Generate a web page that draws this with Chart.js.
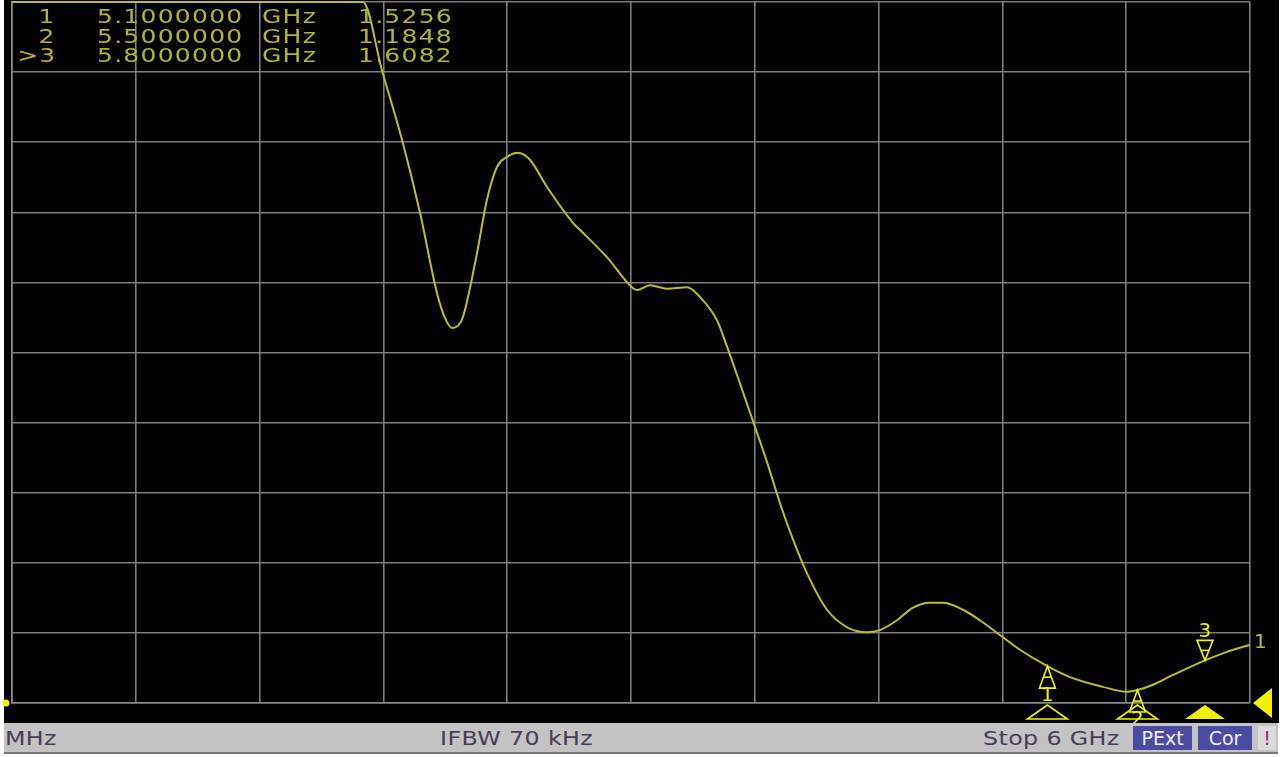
<!DOCTYPE html>
<html>
<head>
<meta charset="utf-8">
<script src="https://cdn.jsdelivr.net/npm/chart.js@4/dist/chart.umd.min.js"></script>
<style>
  html, body { margin: 0; padding: 0; background: #ffffff; }
  #screen { position: absolute; left: 4px; top: 0; width: 1275px; height: 723px; background: #000; }
  #wrap { position: absolute; left: 0; top: 0; width: 1282px; height: 757px; }
  .mk { position: absolute; font-family: "DejaVu Sans", sans-serif; font-size: 20px; line-height: 19.5px;
        color: #b4b42a; letter-spacing: 1px; white-space: pre; transform: scaleX(1.25); }
  #status { position: absolute; left: 4px; top: 723px; width: 1274px; height: 29px; background: #c3c3c3;
            border-bottom: 2px solid #7a7a7a; }
  .st { position: absolute; top: 4px; font-family: "DejaVu Sans", sans-serif; font-size: 19px; line-height: 22px;
        color: #4b3b5b; letter-spacing: 0.3px; white-space: pre; transform: scaleX(1.25); transform-origin: left center; }
  .box { position: absolute; top: 3px; height: 24px; background: #4b4ba3; color: #eeeeff;
         font-family: "DejaVu Sans", sans-serif; font-size: 19px; line-height: 24px; text-align: center; }
</style>
</head>
<body>
<div id="screen"></div>
<div id="wrap"><canvas id="myChart"></canvas></div>
<div id="table"></div>
<div id="status">
  <div class="st" style="left:1px">MHz</div>
  <div class="st" style="left:436px">IFBW 70 kHz</div>
  <div class="st" style="left:979px">Stop 6 GHz</div>
  <div class="box" style="left:1129px;width:59px">PExt</div>
  <div class="box" style="left:1194px;width:54px">Cor</div>
  <div class="box" style="left:1254px;width:18px;background:#dadada;color:#a0207a">!</div>
</div>
<script>
// sweep, GHz (start 500 MHz, stop 6 GHz) and SWR
const freqs = [0.50, 1.00, 1.50, 2.00, 2.059, 2.144, 2.233, 2.313, 2.388, 2.424, 2.455, 2.481, 2.504,
  2.566, 2.610, 2.655, 2.699, 2.748, 2.801, 2.877, 2.992, 3.023, 3.143, 3.254, 3.277, 3.334, 3.410,
  3.499, 3.557, 3.632, 3.677, 3.734, 3.792, 3.854, 3.912, 3.970, 4.032, 4.121, 4.210, 4.298, 4.356,
  4.432, 4.503, 4.578, 4.636, 4.725, 4.800, 4.889, 4.978, 5.10, 5.20, 5.347, 5.453, 5.50, 5.569,
  5.658, 5.80, 5.898, 6.00];
const swr = [11, 11, 11, 11, 11.0, 10.02, 9.03, 7.99, 6.85, 6.49, 6.35, 6.38, 6.51,
  7.42, 8.18, 8.65, 8.79, 8.85, 8.75, 8.36, 7.85, 7.75, 7.36, 6.93, 6.89, 6.96, 6.91,
  6.93, 6.79, 6.46, 6.08, 5.56, 5.02, 4.44, 3.85, 3.33, 2.85, 2.33, 2.08, 2.01, 2.04,
  2.18, 2.36, 2.43, 2.43, 2.33, 2.18, 1.97, 1.76, 1.5256, 1.37, 1.23, 1.16, 1.1848, 1.26,
  1.40, 1.6082, 1.73, 1.83];

const markerNames = ['1', '2', '>3'];
const markerFreqs = [5.1, 5.5, 5.8];
const markerVals = [1.5256, 1.1848, 1.6082];
const activeMarker = 2;

const xTicks = [0.5, 1.05, 1.6, 2.15, 2.7, 3.25, 3.8, 4.35, 4.9, 5.45, 6.0];
const yTicks = [1, 2, 3, 4, 5, 6, 7, 8, 9, 10, 11];

// marker table
const table = document.getElementById('table');
markerNames.forEach((name, i) => {
    const top = 7 + i * 19.5;
    const cols = [
        [name, 'right:1226px;transform-origin:right center'],
        [markerFreqs[i].toFixed(7), 'left:97px;transform-origin:left center'],
        ['GHz', 'left:262px;transform-origin:left center'],
        [markerVals[i].toFixed(4), 'left:358px;transform-origin:left center']
    ];
    cols.forEach(c => {
        const d = document.createElement('div');
        d.className = 'mk';
        d.style.cssText = c[1] + ';top:' + top + 'px';
        d.textContent = c[0];
        table.appendChild(d);
    });
});

const yellow = '#f2f200';

function tri(ctx, x, y, w, h, fill) {
    ctx.beginPath();
    ctx.moveTo(x, y);
    ctx.lineTo(x - w, y + h);
    ctx.lineTo(x + w, y + h);
    ctx.closePath();
    if (fill) ctx.fill(); else ctx.stroke();
}

const markerPlugin = {
    id: 'markers',
    afterDatasetsDraw(chart) {
        const ctx = chart.ctx;
        const xs = chart.scales.x, ys = chart.scales.y;
        const area = chart.chartArea;
        ctx.save();
        ctx.strokeStyle = yellow;
        ctx.fillStyle = yellow;
        ctx.lineWidth = 1.6;
        ctx.font = '20px "DejaVu Sans"';
        ctx.textAlign = 'center';
        ctx.textBaseline = 'middle';
        markerFreqs.forEach((f, i) => {
            const px = xs.getPixelForValue(f);
            const py = ys.getPixelForValue(markerVals[i]);
            const num = String(i + 1);
            if (i === activeMarker) {
                tri(ctx, px, py, 8, -20, false);
                ctx.beginPath();
                ctx.moveTo(px - 4, py - 10);
                ctx.lineTo(px + 4, py - 10);
                ctx.stroke();
                ctx.fillText(num, px, py - 29);
                tri(ctx, px, area.bottom + 2, 20, 14, true);
            } else {
                tri(ctx, px, py, 8, 22, false);
                ctx.beginPath();
                ctx.moveTo(px - 4, py + 11);
                ctx.lineTo(px + 4, py + 11);
                ctx.stroke();
                ctx.fillText(num, px, py + 30);
                tri(ctx, px, area.bottom + 2, 20, 14, false);
            }
        });
        // trace label at the right end
        ctx.fillStyle = '#bdbd2a';
        ctx.textAlign = 'left';
        ctx.fillText('1', area.right + 4, ys.getPixelForValue(swr[swr.length - 1]) - 2);
        // left and right reference indicators
        ctx.fillStyle = yellow;
        ctx.beginPath();
        ctx.arc(6, area.bottom, 3.5, 0, Math.PI * 2);
        ctx.fill();
        ctx.beginPath();
        ctx.moveTo(area.right + 3, area.bottom);
        ctx.lineTo(area.right + 22, area.bottom - 15);
        ctx.lineTo(area.right + 22, area.bottom + 15);
        ctx.closePath();
        ctx.fill();
        ctx.restore();
    }
};

const ctx = document.getElementById('myChart').getContext('2d');
const swrChart = new Chart(ctx, {
    type: 'line',
    data: {
        datasets: [{
            label: 'SWR',
            data: freqs.map((f, i) => ({ x: f, y: swr[i] })),
            borderColor: '#bdbd2a',
            borderWidth: 2,
            pointRadius: 0,
            cubicInterpolationMode: 'monotone',
            clip: 2
        }]
    },
    options: {
        responsive: true,
        maintainAspectRatio: false,
        animation: false,
        layout: { padding: { left: 12, top: 2, right: 32, bottom: 54 } },
        scales: {
            x: {
                type: 'linear',
                min: 0.5,
                max: 6,
                afterBuildTicks: scale => { scale.ticks = xTicks.map(v => ({ value: v })); },
                ticks: { display: false },
                grid: { color: '#7c7c7c', lineWidth: 1.6, drawTicks: false },
                border: { display: true, color: '#8a8a8a', width: 1.6 }
            },
            y: {
                min: 1,
                max: 11,
                afterBuildTicks: scale => { scale.ticks = yTicks.map(v => ({ value: v })); },
                ticks: { display: false },
                grid: { color: '#7c7c7c', lineWidth: 1.6, drawTicks: false },
                border: { display: true, color: '#8a8a8a', width: 1.6 }
            }
        },
        plugins: {
            legend: { display: false },
            tooltip: { enabled: false }
        }
    },
    plugins: [markerPlugin]
});
</script>
</body>
</html>
